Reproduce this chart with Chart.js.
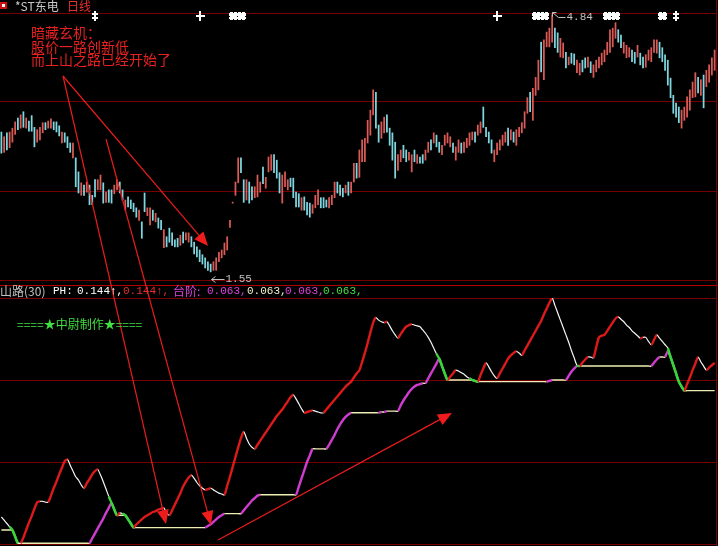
<!DOCTYPE html>
<html><head><meta charset="utf-8">
<script src="https://cdn.jsdelivr.net/npm/chart.js@4.4.1/dist/chart.umd.min.js"></script>
<style>
html,body{margin:0;padding:0;background:#000;overflow:hidden}
#wrap{position:relative;width:718px;height:546px;background:#000}
canvas{position:absolute;left:0;top:0}
.t{position:absolute;white-space:pre;font-size:12px;line-height:12px;font-family:"Noto Sans CJK SC","DejaVu Sans",sans-serif;z-index:5}
.m{font-family:"Liberation Mono","DejaVu Sans Mono",monospace;font-size:11px}
#icon{position:absolute;left:0;top:2px;width:7px;height:7px;background:#d01010;z-index:5}
#icon i{position:absolute;left:2px;top:2px;width:3px;height:3px;background:#fff}
</style></head>
<body><div id="wrap">
<canvas id="top" width="718" height="546"></canvas>
<canvas id="bot" width="718" height="546"></canvas>
<div id="icon"><i></i></div>
<div class="t" style="left:15px;top:0;color:#c8c8c8">*ST东电</div>
<div class="t" style="left:67px;top:0;color:#e83030">日线</div>
<div class="t" style="left:31px;top:26px;font-size:14px;line-height:13.5px;color:#e82020">暗藏玄机：
股价一路创新低
而上山之路已经开始了</div>
<div class="t" style="left:0;top:285px;color:#c0c0c0">山路(30)</div>
<div class="t m" style="left:53px;top:285px;color:#ffffff">PH:</div>
<div class="t m" style="left:77px;top:285px;color:#ffffff">0.144↑,</div>
<div class="t m" style="left:123px;top:285px;color:#e83030">0.144↑,</div>
<div class="t" style="left:173px;top:285px;color:#e040e0">台阶:</div>
<div class="t m" style="left:207px;top:285px;color:#e040e0">0.063,</div>
<div class="t m" style="left:247px;top:285px;color:#f0f0c8">0.063,</div>
<div class="t m" style="left:285px;top:285px;color:#e040e0">0.063,</div>
<div class="t m" style="left:323px;top:285px;color:#40e040">0.063,</div>
<div class="t" style="left:17px;top:318px;color:#40e040">====★中尉制作★====</div>
</div>
<script>
// ---- price bars (daily) ----
const highs = [
3.34,3.28,3.33,3.34,3.39,3.47,3.52,3.56,3.60,3.52,
3.48,3.55,3.40,3.37,3.40,3.46,3.46,3.48,3.51,3.47,
3.47,3.42,3.34,3.33,3.28,3.20,3.20,3.01,2.83,2.69,
2.66,2.70,2.66,2.53,2.73,2.73,2.79,2.69,2.57,2.60,
2.60,2.66,2.73,2.70,2.60,2.47,2.51,2.47,2.43,2.37,
2.34,2.19,2.56,2.37,2.37,2.34,2.30,2.24,2.21,2.09,
2.00,2.11,2.05,1.96,1.98,2.02,2.06,2.05,2.05,2.00,
1.93,1.87,1.83,1.77,1.73,1.68,1.65,1.68,1.73,1.80,
1.83,1.92,2.00,2.21,2.44,2.70,3.01,3.01,2.73,2.73,
2.70,2.64,2.64,2.79,2.70,2.89,2.76,3.02,3.05,3.05,
2.98,2.82,2.79,2.83,2.73,2.75,2.75,2.57,2.55,2.50,
2.51,2.44,2.43,2.41,2.53,2.60,2.50,2.50,2.47,2.50,
2.53,2.70,2.70,2.66,2.62,2.66,2.70,2.70,2.94,2.94,
3.11,3.24,3.26,3.49,3.62,3.88,3.85,3.43,3.47,3.53,
3.56,3.39,3.33,3.21,3.05,3.11,3.17,3.11,3.08,3.05,
3.11,3.05,3.02,3.05,3.11,3.21,3.24,3.33,3.30,3.21,
3.17,3.30,3.33,3.28,3.20,3.15,3.24,3.20,3.21,3.26,
3.33,3.34,3.34,3.43,3.47,3.66,3.40,3.34,3.24,3.11,
3.20,3.24,3.30,3.34,3.39,3.37,3.34,3.37,3.40,3.46,
3.60,3.78,3.85,3.90,4.04,4.26,4.49,4.52,4.62,4.67,
4.84,4.67,4.61,4.54,4.48,4.36,4.30,4.35,4.34,4.26,
4.22,4.26,4.29,4.30,4.24,4.20,4.26,4.30,4.35,4.39,
4.49,4.65,4.67,4.74,4.65,4.58,4.49,4.45,4.42,4.39,
4.36,4.45,4.35,4.30,4.33,4.39,4.42,4.52,4.52,4.49,
4.42,4.33,4.26,4.03,3.81,3.71,3.66,3.62,3.66,3.79,
3.88,3.98,4.10,4.04,4.01,4.07,4.13,4.20,4.29,4.39];
const lows = [
3.07,3.08,3.11,3.14,3.21,3.31,3.37,3.39,3.40,3.39,
3.35,3.35,3.15,3.21,3.24,3.33,3.37,3.39,3.39,3.37,
3.34,3.29,3.20,3.21,3.14,3.08,3.01,2.64,2.56,2.53,
2.53,2.57,2.41,2.41,2.51,2.60,2.60,2.43,2.44,2.44,
2.43,2.55,2.60,2.56,2.47,2.34,2.38,2.36,2.32,2.25,
2.21,1.98,2.32,2.27,2.15,2.21,2.19,2.11,2.09,1.86,
1.87,1.93,1.89,1.87,1.87,1.89,1.92,1.96,1.93,1.87,
1.78,1.74,1.68,1.65,1.60,1.57,1.55,1.57,1.57,1.68,
1.73,1.77,1.83,2.12,2.43,2.53,2.69,2.82,2.44,2.47,
2.43,2.47,2.50,2.51,2.57,2.68,2.62,2.83,2.85,2.82,
2.75,2.56,2.43,2.64,2.60,2.64,2.50,2.38,2.38,2.34,
2.34,2.28,2.25,2.30,2.37,2.41,2.37,2.37,2.38,2.37,
2.41,2.50,2.56,2.53,2.51,2.56,2.53,2.56,2.70,2.75,
2.76,2.96,2.96,3.20,3.30,3.56,3.39,3.21,3.26,3.33,
3.34,3.17,2.98,2.75,2.85,2.96,3.01,2.96,2.98,2.83,
2.96,2.94,2.94,2.94,2.98,3.08,3.11,3.20,3.15,3.08,
3.05,3.17,3.20,3.15,3.08,2.98,3.08,3.07,3.08,3.14,
3.17,3.24,3.21,3.30,3.33,3.40,3.28,3.20,3.07,2.96,
3.05,3.11,3.17,3.21,3.17,3.24,3.21,3.17,3.28,3.33,
3.39,3.58,3.60,3.49,3.81,3.88,4.11,4.01,4.43,4.43,
4.49,4.42,4.36,4.30,4.29,4.16,4.20,4.22,4.20,4.10,
4.07,4.11,4.16,4.17,4.10,4.04,4.11,4.16,4.20,4.24,
4.33,4.36,4.43,4.54,4.49,4.42,4.35,4.29,4.30,4.24,
4.22,4.30,4.20,4.16,4.17,4.26,4.24,4.36,4.35,4.29,
4.24,4.13,3.94,3.78,3.58,3.53,3.46,3.39,3.49,3.53,
3.62,3.78,3.79,3.84,3.81,3.65,3.92,3.98,4.07,4.13];
// r = up day (red), c = down day (cyan)
const barDirs = ("crcrrrcrcr"+"cccrrrcrrc"+"ccrcccrccr"+"crcccrrcrc"+"crrccrcccc"+"rccrrcrccr"+
  "cccccrcrrc"+"cccccccrrr"+"rrrrrrrccr"+"ccrrrcrrrc"+"ccrrrccccr"+"cccrrrcccr"+"rrcccrcrrc"+
  "rrrrrrccrr"+"ccccrrccrr"+"crccrrcrcc"+"rrrrcrrcrr"+"rrcrrccccr"+"rrrrcrcrrr"+"rrcrrrcrrr"+
  "rccrrcrccr"+"rccrcrrrrr"+"rrrrccrrrc"+"crccrrrrrc"+"cccccccrrr"+"rrrcrcrrrr").split('');
// ---- indicator 山路(30) ----
const upper = [
0.33,0.29,0.25,0.21,0.17,0.09,0.01,0.01,0.08,0.17,
0.26,0.34,0.43,0.51,0.52,0.52,0.51,0.51,0.59,0.68,
0.76,0.85,0.93,1.01,1.03,0.96,0.89,0.82,0.78,0.72,
0.68,0.74,0.79,0.85,0.89,0.91,0.84,0.76,0.67,0.58,
0.50,0.42,0.35,0.38,0.37,0.35,0.30,0.25,0.20,0.24,
0.27,0.30,0.33,0.35,0.37,0.39,0.40,0.42,0.43,0.44,
0.38,0.35,0.41,0.48,0.55,0.62,0.70,0.76,0.81,0.84,
0.80,0.75,0.71,0.68,0.66,0.67,0.68,0.66,0.64,0.62,
0.61,0.60,0.71,0.82,0.94,1.06,1.18,1.29,1.37,1.29,
1.22,1.18,1.16,1.21,1.26,1.31,1.36,1.41,1.46,1.51,
1.56,1.60,1.64,1.69,1.74,1.79,1.82,1.77,1.71,1.65,
1.60,1.61,1.62,1.63,1.62,1.61,1.60,1.60,1.64,1.68,
1.72,1.76,1.80,1.84,1.88,1.92,1.95,1.98,2.03,2.08,
2.12,2.22,2.33,2.45,2.58,2.70,2.76,2.73,2.71,2.70,
2.71,2.66,2.60,2.55,2.51,2.56,2.61,2.65,2.67,2.68,
2.67,2.66,2.65,2.61,2.57,2.52,2.46,2.39,2.32,2.26,
2.17,2.08,2.00,2.04,2.08,2.12,2.11,2.09,2.07,2.04,
2.02,2.00,1.99,1.98,2.06,2.14,2.21,2.16,2.10,2.05,
2.02,2.08,2.14,2.20,2.26,2.30,2.33,2.35,2.33,2.30,
2.36,2.42,2.48,2.54,2.60,2.66,2.72,2.80,2.87,2.94,
3.00,2.91,2.82,2.73,2.64,2.55,2.46,2.36,2.27,2.18,
2.17,2.21,2.25,2.28,2.28,2.27,2.40,2.52,2.54,2.55,
2.60,2.65,2.70,2.75,2.77,2.74,2.71,2.67,2.64,2.60,
2.57,2.54,2.51,2.52,2.52,2.47,2.43,2.49,2.55,2.51,
2.47,2.43,2.39,2.28,2.18,2.08,1.98,1.92,1.87,1.95,
2.03,2.12,2.20,2.28,2.22,2.17,2.12,2.15,2.18,2.21];
const lower = [
0.17,0.17,0.17,0.17,0.17,0.09,0.01,0.01,0.01,0.01,
0.01,0.01,0.01,0.01,0.01,0.01,0.01,0.01,0.01,0.01,
0.01,0.01,0.01,0.01,0.01,0.01,0.01,0.01,0.01,0.01,
0.01,0.01,0.01,0.07,0.13,0.19,0.25,0.31,0.38,0.44,
0.50,0.42,0.35,0.35,0.35,0.35,0.30,0.25,0.20,0.20,
0.20,0.20,0.20,0.20,0.20,0.20,0.20,0.20,0.20,0.20,
0.20,0.20,0.20,0.20,0.20,0.20,0.20,0.20,0.20,0.20,
0.20,0.20,0.20,0.20,0.20,0.22,0.24,0.27,0.30,0.33,
0.35,0.37,0.37,0.37,0.37,0.37,0.37,0.37,0.41,0.45,
0.49,0.53,0.56,0.59,0.60,0.60,0.60,0.60,0.60,0.60,
0.60,0.60,0.60,0.60,0.60,0.60,0.60,0.60,0.70,0.80,
0.90,1.00,1.08,1.16,1.16,1.16,1.16,1.16,1.16,1.21,
1.27,1.33,1.40,1.46,1.51,1.55,1.58,1.60,1.60,1.60,
1.60,1.60,1.60,1.60,1.60,1.60,1.60,1.60,1.61,1.61,
1.62,1.62,1.62,1.62,1.62,1.69,1.75,1.80,1.85,1.89,
1.92,1.94,1.95,1.96,1.96,2.02,2.08,2.14,2.20,2.26,
2.17,2.08,2.00,2.00,2.00,2.00,2.00,2.00,2.00,2.00,
2.00,2.00,1.99,1.98,1.98,1.98,1.98,1.98,1.98,1.98,
1.98,1.98,1.98,1.98,1.98,1.98,1.98,1.98,1.98,1.98,
1.98,1.98,1.98,1.98,1.98,1.98,1.98,1.98,1.98,1.99,
2.00,2.00,2.00,2.00,2.00,2.00,2.05,2.10,2.14,2.17,
2.17,2.17,2.17,2.17,2.17,2.17,2.17,2.17,2.17,2.17,
2.17,2.17,2.17,2.17,2.17,2.17,2.17,2.17,2.17,2.17,
2.17,2.17,2.17,2.17,2.17,2.17,2.17,2.21,2.25,2.28,
2.28,2.28,2.35,2.28,2.18,2.08,1.98,1.92,1.87,1.87,
1.87,1.87,1.87,1.87,1.87,1.87,1.87,1.87,1.87,1.87];
// ---- axes / signals ----
const priceTicks = [1.446, 2.585, 3.725, 4.864];
const indTicks = [0, 1, 2, 3];
const signalBars  = [34, 72, 84, 87, 180, 194, 197, 220, 223, 240, 245];
const signalKinds = ['dd','plus','star','star','plus','star','star','star','star','star','dd'];
const barLabels = highs.map((_, i) => String(i));

const GRID = '#740000', RED_BAR = '#dc5a56', CYAN_BAR = '#7ed6e0';
const L_RED = '#dc1a1a', L_WHITE = '#f4f4f4', L_GREEN = '#3cd23c', L_MAG = '#d03cd0', L_YEL = '#eeeeb4';
const LABEL = '#c0c0c0';

function upperKind(a, b) {
  if (upper[b] > upper[a]) return 'r';
  if (upper[b] < upper[a] && Math.abs(lower[b] - upper[b]) < 0.001) return 'g';
  return 'w';
}
function lowerKind(a, b) {
  if (lower[b] > lower[a]) return 'm';
  if (lower[b] < lower[a]) return 'g';
  return 'y';
}

const topMarks = {
  id: 'topMarks',
  afterDatasetsDraw(chart) {
    const c = chart.ctx, xs = chart.scales.x, ys = chart.scales.y;
    c.save();
    c.strokeStyle = '#ffffff'; c.fillStyle = '#ffffff';
    signalBars.forEach((b, k) => {
      const x = Math.round(xs.getPixelForValue(b)), kind = signalKinds[k];
      if (kind === 'plus') {
        c.fillRect(x - 1, 11, 2, 10); c.fillRect(x - 4, 15, 9, 2);
      } else if (kind === 'dd') {
        c.fillRect(x - 1, 11, 2, 10); c.fillRect(x - 3, 13, 6, 2); c.fillRect(x - 3, 17, 6, 2);
      } else {
        c.fillRect(x - 3, 12, 7, 8); c.fillRect(x - 4, 13, 9, 6);
        c.fillStyle = '#000'; c.fillRect(x, 12, 1, 1); c.fillRect(x, 19, 1, 1); c.fillRect(x - 4, 16, 1, 1); c.fillRect(x + 4, 16, 1, 1);
        c.fillStyle = '#ffffff';
      }
    });
    let hi = 0, lo = 0;
    highs.forEach((v, i) => { if (v > highs[hi]) hi = i; });
    lows.forEach((v, i) => { if (v < lows[lo]) lo = i; });
    c.strokeStyle = LABEL; c.fillStyle = LABEL; c.lineWidth = 1;
    c.font = '11px "Liberation Mono", monospace'; c.textBaseline = 'middle';
    let x = Math.round(xs.getPixelForValue(hi)) + 0.5, y = Math.round(ys.getPixelForValue(highs[hi])) - 2.5;
    c.beginPath();
    c.moveTo(x, y); c.lineTo(x + 4, y); c.moveTo(x, y); c.lineTo(x, y + 4);
    c.moveTo(x, y); c.lineTo(x + 6, y + 5); c.lineTo(x + 13, y + 5); c.stroke();
    c.fillText(highs[hi].toFixed(2), x + 14, y + 5);
    x = Math.round(xs.getPixelForValue(lo)) + 0.5; y = Math.round(ys.getPixelForValue(lows[lo])) + 7.5;
    c.beginPath();
    c.moveTo(x + 4, y - 3); c.lineTo(x, y); c.lineTo(x + 4, y + 3);
    c.moveTo(x, y); c.lineTo(x + 13, y); c.stroke();
    c.fillText(lows[lo].toFixed(2), x + 14, y);
    c.restore();
  }
};

function arrow(c, x1, y1, x2, y2) {
  const a = Math.atan2(y2 - y1, x2 - x1), len = 14, hw = 6;
  c.beginPath(); c.moveTo(x1, y1); c.lineTo(x2 - Math.cos(a) * 6, y2 - Math.sin(a) * 6); c.stroke();
  const bx = x2 - Math.cos(a) * len, by = y2 - Math.sin(a) * len;
  c.beginPath(); c.moveTo(x2, y2);
  c.lineTo(bx + Math.sin(a) * hw, by - Math.cos(a) * hw);
  c.lineTo(bx - Math.sin(a) * hw, by + Math.cos(a) * hw);
  c.closePath(); c.fill();
}

const frame = {
  id: 'frame',
  afterDraw(chart) {
    const c = chart.ctx;
    c.save();
    c.strokeStyle = '#b00000'; c.lineWidth = 1;
    c.beginPath(); c.moveTo(0, 285.5); c.lineTo(718, 285.5); c.stroke();
    c.strokeStyle = GRID;
    c.beginPath(); c.moveTo(716.5, 0); c.lineTo(716.5, 546); c.stroke();
    c.strokeStyle = '#e81c1c'; c.fillStyle = '#ee1c1c'; c.lineWidth = 1.2;
    arrow(c, 63, 76, 208, 246);
    arrow(c, 63, 76, 166, 524);
    arrow(c, 106, 139, 211, 525);
    arrow(c, 218, 540, 452, 413);
    c.restore();
  }
};

new Chart(document.getElementById('top'), {
  type: 'bar',
  data: { labels: barLabels, datasets: [{
    data: lows.map((l, i) => [l, highs[i]]),
    backgroundColor: barDirs.map(d => d === 'r' ? RED_BAR : CYAN_BAR),
    barThickness: 1.1, borderWidth: 0, minBarLength: 1
  }]},
  options: {
    responsive: false, animation: false, devicePixelRatio: 1,
    layout: { padding: { left: 0, right: 2, top: 13, bottom: 266 }, autoPadding: false },
    plugins: { legend: { display: false }, tooltip: { enabled: false } },
    scales: {
      x: { display: false, offset: true, grid: { display: false } },
      y: { min: priceTicks[0], max: priceTicks[3],
           afterBuildTicks: s => { s.ticks = priceTicks.map(v => ({ value: v })); },
           ticks: { display: false }, grid: { color: GRID, drawTicks: false }, border: { display: false } }
    }
  },
  plugins: [topMarks]
});

new Chart(document.getElementById('bot'), {
  type: 'line',
  data: { labels: barLabels, datasets: [
    { data: upper, pointRadius: 0, tension: 0.25, borderColor: L_WHITE, borderWidth: 1.2,
      segment: {
        borderColor: c => ({ r: L_RED, g: L_GREEN, w: L_WHITE })[upperKind(c.p0DataIndex, c.p1DataIndex)],
        borderWidth: c => upperKind(c.p0DataIndex, c.p1DataIndex) === 'w' ? 1.2 : 2.4
      } },
    { data: lower, pointRadius: 0, tension: 0.25, borderColor: L_YEL, borderWidth: 1.4,
      segment: {
        borderColor: c => ({ m: L_MAG, g: L_GREEN, y: L_YEL })[lowerKind(c.p0DataIndex, c.p1DataIndex)],
        borderWidth: c => lowerKind(c.p0DataIndex, c.p1DataIndex) === 'y' ? 1.4 : 2.4
      } }
  ]},
  options: {
    responsive: false, animation: false, devicePixelRatio: 1,
    layout: { padding: { left: 0, right: 2, top: 298, bottom: 2 }, autoPadding: false },
    plugins: { legend: { display: false }, tooltip: { enabled: false } },
    scales: {
      x: { display: false, offset: true, grid: { display: false } },
      y: { min: indTicks[0], max: indTicks[3],
           afterBuildTicks: s => { s.ticks = indTicks.map(v => ({ value: v })); },
           ticks: { display: false }, grid: { color: GRID, drawTicks: false }, border: { display: false } }
    }
  },
  plugins: [frame]
});
</script>
</body></html>
